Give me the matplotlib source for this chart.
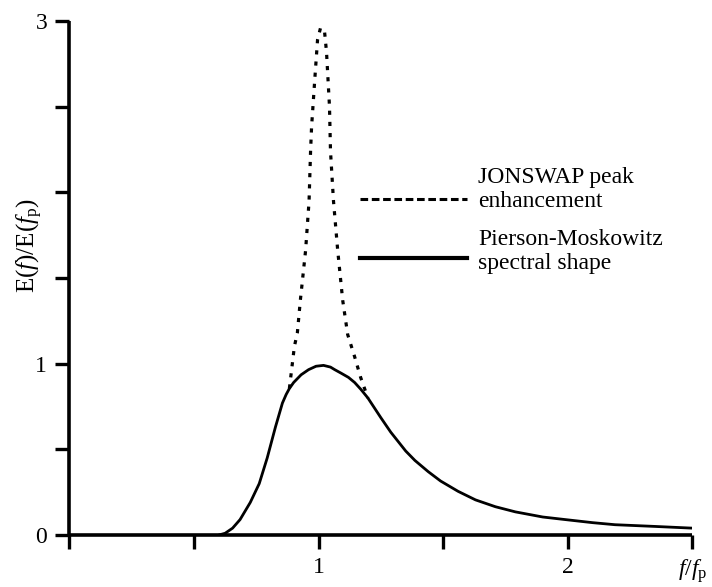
import matplotlib
matplotlib.use("Agg")
from matplotlib import pyplot as plt
from matplotlib.lines import Line2D

plt.rcParams['font.family'] = ['Liberation Serif', 'DejaVu Serif']
plt.rcParams['mathtext.fontset'] = 'custom'
plt.rcParams['mathtext.rm'] = 'Liberation Serif'
plt.rcParams['mathtext.it'] = 'Liberation Serif:italic'

# Pierson-Moskowitz shape
pm_f = [0.60, 0.625, 0.655, 0.685, 0.726, 0.762, 0.794, 0.827, 0.855, 0.87,
        0.883, 0.90, 0.93, 0.96, 0.99, 1.02, 1.048, 1.065, 1.09, 1.12,
        1.145, 1.17, 1.198, 1.25, 1.29, 1.35, 1.387, 1.44, 1.49, 1.56,
        1.63, 1.71, 1.79, 1.90, 1.99, 2.10, 2.19, 2.35, 2.50]
pm_E = [0.0, 0.01, 0.04, 0.09, 0.19, 0.30, 0.45, 0.63, 0.77, 0.82,
        0.855, 0.89, 0.935, 0.965, 0.985, 0.99, 0.98, 0.965, 0.945, 0.92,
        0.89, 0.85, 0.80, 0.685, 0.60, 0.49, 0.435, 0.37, 0.315, 0.255,
        0.205, 0.165, 0.135, 0.105, 0.09, 0.072, 0.06, 0.05, 0.04]

# JONSWAP peak enhancement
js_f = [0.883, 0.903, 0.915, 0.927, 0.948, 0.962, 0.968, 0.972, 0.984, 0.996,
        1.008, 1.024, 1.032, 1.044, 1.048, 1.06, 1.077, 1.097, 1.117, 1.145,
        1.169, 1.198]
js_E = [0.855, 1.10, 1.18, 1.37, 1.66, 1.95, 2.24, 2.38, 2.64, 2.89,
        2.96, 2.94, 2.82, 2.50, 2.24, 1.95, 1.66, 1.37, 1.17, 1.04,
        0.92, 0.80]

xtick_vals = [0, 0.5, 1, 1.5, 2, 2.5]
xtick_labels = ['', '', '1', '', '2', r'$f/f_{\rm p}$']
ytick_vals = [0, 0.5, 1, 1.5, 2, 2.5, 3]
ytick_labels = ['0', '', '1', '', '', '', '3']

legend_labels = ['JONSWAP peak\nenhancement', 'Pierson-Moskowitz\nspectral shape']

fig = plt.figure(figsize=(7.12, 5.87), dpi=100)
ax = fig.add_axes([0.0975, 0.0886, 0.8747, 0.8756])

ax.plot(pm_f, pm_E, color='black', lw=2.0, solid_capstyle='round', solid_joinstyle='round')
ax.plot(js_f, js_E, color='black', lw=2.3, linestyle=(0, (1.3, 2.2)))

ax.set_xlim(0, 2.5)
ax.set_ylim(0, 3)
for s in ['top', 'right']:
    ax.spines[s].set_visible(False)
for s in ['left', 'bottom']:
    ax.spines[s].set_linewidth(2.6)
    ax.spines[s].set_capstyle('butt')

ax.set_xticks(xtick_vals, xtick_labels)
ax.set_yticks(ytick_vals, ytick_labels)
ax.tick_params(direction='out', length=10, width=2.4, labelsize=17, color='black')
ax.tick_params(axis='x', pad=6)
ax.tick_params(axis='y', pad=6)

ax.set_ylabel(r'E($f$)/E($f_{\rm p}$)', fontsize=18)
ax.yaxis.set_label_coords(-0.04, 0.564)

handles = [Line2D([], [], color='black', lw=2.2, linestyle=(0, (2.5, 1.2))),
           Line2D([], [], color='black', lw=3.0)]
leg = ax.legend(handles, legend_labels, loc='upper left', bbox_to_anchor=(0.4666, 0.716),
                frameon=False, fontsize=17, handlelength=4.55, handletextpad=0.45,
                borderpad=0, borderaxespad=0, labelspacing=0.72)
# the keys sit near the second text line, not between the lines
key_shift = [-7.2, -4.4]
for h, dy in zip(leg.legend_handles, key_shift):
    y = h.get_ydata()
    h.set_ydata([v + dy for v in y])

fig.savefig('out.png', dpi=100, facecolor='white')
